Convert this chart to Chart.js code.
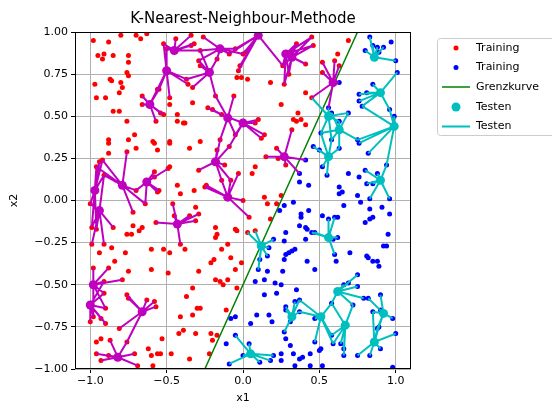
<!DOCTYPE html>
<html>
<head>
<meta charset="utf-8">
<script src="https://cdn.jsdelivr.net/npm/chart.js@4/dist/chart.umd.min.js"></script>
<style>
  body { margin: 0; background: #fff; }
</style>
</head>
<body>
<canvas id="knnChart" width="552" height="405"></canvas>
<script>
// training points, class "red" (left of the boundary)
const trainRed = [
  [-0.98,0.95],[-0.88,0.94],[-0.80,0.98],[-0.70,0.98],[-0.67,0.96],[-0.63,0.99],[-0.95,0.86],[-0.91,0.87],
  [-0.92,0.84],[-0.85,0.86],[-0.75,0.86],[-0.75,0.82],[-0.76,0.76],[-0.75,0.74],[-0.87,0.72],[-0.86,0.71],
  [-0.80,0.70],[-0.97,0.69],[-0.79,0.67],[-0.81,0.64],[-0.96,0.61],[-0.90,0.61],[-0.66,0.62],[-0.66,0.57],
  [-0.85,0.53],[-0.81,0.53],[-0.57,0.47],[-0.76,0.47],[-0.71,0.39],[-0.88,0.36],[-0.75,0.36],[-0.59,0.35],
  [-0.56,0.66],
  [-0.52,0.93],[-0.44,0.96],[-0.34,0.98],[-0.32,0.93],[-0.34,0.92],[-0.50,0.90],[-0.55,0.66],[-0.26,0.97],
  [-0.09,0.87],[-0.05,0.90],[-0.17,0.84],[-0.28,0.89],[-0.29,0.83],[-0.36,0.69],[-0.33,0.67],[-0.37,0.72],
  [-0.28,0.80],[-0.02,0.80],[-0.03,0.77],[-0.04,0.73],[-0.01,0.73],[-0.18,0.62],[-0.33,0.58],[-0.23,0.55],
  [-0.20,0.54],[-0.48,0.61],[-0.48,0.57],[-0.43,0.51],[-0.43,0.47],[-0.39,0.46],[-0.38,0.46],[-0.14,0.51],
  [-0.06,0.62],[-0.05,0.39],[-0.15,0.36],[-0.48,0.35],[-0.28,0.35],[-0.52,0.51],[-0.54,0.52],
  [0.00,0.87],[0.02,0.88],[0.03,0.72],[0.35,0.93],[0.45,0.97],[0.46,0.92],[0.52,0.82],[0.52,0.76],
  [0.41,0.81],[0.26,0.80],[0.30,0.75],[0.18,0.70],[0.27,0.69],[0.41,0.64],[0.45,0.61],[0.25,0.57],
  [0.36,0.52],[0.33,0.48],[0.35,0.47],[0.38,0.48],[0.41,0.45],[0.32,0.42],[0.08,0.46],[0.10,0.48],
  [0.14,0.39],[0.12,0.37],
  [0.69,0.95],[0.62,0.87],[0.60,0.83],[0.63,0.80],
  [-0.88,0.34],[-0.76,0.29],[-0.70,0.31],[-0.58,0.34],[-0.56,0.30],[-0.88,0.28],[-0.92,0.24],[-0.94,0.23],
  [-0.96,0.20],[-0.91,0.15],[-1.00,-0.02],[-0.70,0.06],[-0.64,-0.02],[-0.72,-0.07],[-0.85,-0.16],[-0.72,-0.15],
  [-0.66,-0.16],[-0.68,-0.18],[-0.76,-0.20],[-0.73,-0.20],[-0.57,-0.13],[-0.99,-0.26],[-0.91,-0.26],[-0.94,-0.31],
  [-0.86,-0.28],[-0.77,-0.31],[-0.60,-0.29],[-0.58,0.17],[-0.58,0.14],[-0.56,0.05],[-0.55,0.06],[-0.99,-0.16],
  [-0.96,-0.17],
  [-0.48,0.34],[-0.35,0.31],[-0.17,0.30],[-0.09,0.32],[-0.12,0.21],[-0.48,0.20],[-0.49,0.19],[-0.29,0.18],
  [-0.03,0.16],[-0.14,0.12],[-0.08,0.12],[-0.43,0.09],[-0.41,0.04],[-0.32,0.06],[-0.24,0.09],[-0.25,0.08],
  [-0.46,-0.02],[-0.31,-0.04],[-0.35,-0.09],[-0.29,-0.08],[-0.45,-0.09],[-0.31,-0.12],[-0.41,-0.26],[-0.38,-0.29],
  [-0.52,-0.29],[-0.48,-0.31],[-0.18,-0.16],[-0.17,-0.20],[-0.18,-0.22],[-0.05,-0.17],[-0.04,-0.18],[-0.14,-0.29],
  [-0.10,-0.26],
  [0.22,0.31],[0.15,0.26],[0.23,0.25],[0.28,0.21],[0.08,0.20],[0.06,0.16],[0.14,0.02],[0.16,-0.02],
  [0.22,-0.02],[0.25,0.03],[0.00,0.00],[0.04,-0.10],[0.03,-0.19],[0.08,-0.18],[0.18,-0.11],
  [-0.84,-0.36],[-0.98,-0.40],[-0.88,-0.40],[-0.75,-0.42],[-0.60,-0.41],[-0.91,-0.48],[-0.79,-0.47],[-0.91,-0.55],
  [-0.90,-0.64],[-0.98,-0.69],[-0.93,-0.70],[-1.00,-0.72],[-0.90,-0.73],[-0.76,-0.56],[-0.75,-0.58],[-0.63,-0.59],
  [-0.58,-0.60],[-0.57,-0.63],[-0.81,-0.76],[-0.96,-0.84],[-0.93,-0.82],[-0.87,-0.83],[-0.76,-0.84],[-0.62,-0.88],
  [-0.96,-0.91],[-0.88,-0.92],[-0.93,-0.95],[-0.71,-0.91],[-0.69,-0.98],[-0.59,-0.98],[-0.60,-0.92],[-0.56,-0.91],
  [-0.21,-0.37],[-0.19,-0.35],[-0.08,-0.34],[-0.01,-0.37],[-0.49,-0.43],[-0.29,-0.42],[-0.05,-0.41],[-0.18,-0.47],
  [-0.15,-0.48],[-0.13,-0.50],[-0.10,-0.47],[-0.04,-0.52],[-0.33,-0.52],[-0.37,-0.57],[-0.30,-0.64],[-0.28,-0.64],
  [-0.11,-0.65],[-0.33,-0.68],[-0.41,-0.69],[-0.42,-0.79],[-0.39,-0.77],[-0.31,-0.79],[-0.21,-0.79],[-0.17,-0.80],
  [-0.20,-0.83],[-0.22,-0.91],[-0.47,-0.91],[-0.35,-0.94],[-0.54,-0.91],[-0.53,-0.82]
];

// training points, class "blue" (right of the boundary)
const trainBlue = [
  [0.51,0.40],
  [0.83,0.97],[0.80,0.89],[0.85,0.92],[0.88,0.91],[0.92,0.91],[0.97,0.94],[0.89,0.88],[0.63,0.70],
  [1.00,0.83],[1.01,0.76],[0.85,0.69],[0.96,0.54],[0.76,0.63],[0.81,0.64],[0.76,0.59],[0.78,0.56],
  [0.56,0.55],[0.69,0.52],[0.58,0.52],[0.63,0.47],[0.58,0.36],[0.99,0.50],[0.75,0.36],
  [0.41,0.24],[0.37,0.16],[0.37,0.11],[0.43,0.09],[0.33,-0.01],[0.27,-0.03],[0.24,-0.06],[0.38,-0.08],
  [0.38,-0.10],[0.43,-0.06],[0.52,-0.09],[0.37,-0.15],[0.41,-0.16],[0.42,-0.17],[0.28,-0.19],[0.41,-0.23],
  [0.45,-0.19],[0.47,-0.19],[0.27,-0.24],[0.20,-0.23],[0.32,-0.30],[0.34,-0.29],[0.28,-0.32],[0.30,-0.31],
  [0.17,-0.28],[0.16,-0.33],[0.46,0.32],[0.52,0.20],[0.55,0.15],[0.50,0.30],
  [0.82,0.28],[0.94,0.21],[0.80,0.18],[0.76,0.14],[0.81,0.10],[0.85,0.10],[0.88,0.16],[0.69,0.16],
  [0.63,0.08],[0.65,0.05],[0.63,0.04],[0.75,0.03],[0.77,-0.01],[0.83,0.01],[0.96,0.01],[0.91,-0.04],
  [0.66,-0.03],[0.83,-0.05],[0.96,-0.08],[0.85,-0.10],[0.83,-0.11],[0.80,-0.13],[0.56,-0.11],[0.60,-0.10],
  [0.62,-0.10],[0.95,-0.20],[0.62,-0.22],[0.59,-0.23],[0.92,-0.27],[0.94,-0.27],[0.60,-0.32],[0.70,-0.31],
  [0.81,-0.33],[0.63,0.31],[0.76,0.34],
  [-0.08,-0.70],[-0.05,-0.69],[-0.05,-0.80],[-0.11,-0.85],[-0.09,-0.97],[0.00,-0.92],
  [0.11,-0.35],[0.27,-0.35],[0.26,-0.42],[0.10,-0.41],[0.16,-0.42],[0.08,-0.48],[0.14,-0.47],[0.21,-0.49],
  [0.25,-0.50],[0.14,-0.56],[0.22,-0.55],[0.35,-0.53],[0.34,-0.60],[0.37,-0.59],[0.28,-0.63],[0.28,-0.65],
  [0.31,-0.72],[0.37,-0.66],[0.09,-0.68],[0.17,-0.68],[0.19,-0.72],[0.05,-0.73],[0.47,-0.70],[0.27,-0.78],
  [0.28,-0.82],[0.31,-0.86],[0.33,-0.91],[0.04,-0.85],[0.20,-0.92],[0.25,-0.91],[0.25,-0.95],[0.11,-0.96],
  [0.18,-0.95],[0.34,-0.98],[0.37,-0.94],[0.39,-0.93],[0.44,-0.91],[0.44,-0.98],[0.47,-0.84],[0.50,-0.89],
  [0.51,-0.88],[0.52,-0.98],[0.42,-0.36],[0.47,-0.41],
  [0.61,-0.36],[0.82,-0.34],[0.85,-0.36],[0.88,-0.36],[0.89,-0.39],[0.75,-0.44],[0.69,-0.49],[0.66,-0.50],
  [0.75,-0.51],[0.58,-0.61],[0.72,-0.62],[0.79,-0.58],[0.82,-0.58],[0.90,-0.56],[0.98,-0.70],[0.85,-0.66],
  [0.89,-0.75],[0.88,-0.76],[1.00,-0.79],[0.58,-0.80],[0.59,-0.85],[0.64,-0.85],[0.66,-0.88],[0.66,-0.92],
  [0.75,-0.92],[0.83,-0.92],[0.90,-0.88],[0.98,-0.99],[0.90,-0.65]
];

// test points, by predicted class
const testRed = [
  [-0.45,0.89],[-0.50,0.77],[-0.15,0.90],[-0.22,0.76],[-0.61,0.57],[0.10,0.98],[0.28,0.87],[0.32,0.85],
  [-0.10,0.49],[0.00,0.46],[0.59,0.70],[-0.97,0.06],[-0.94,-0.06],[-0.79,0.09],[-0.63,0.11],[-0.18,0.23],
  [-0.10,0.02],[-0.43,-0.14],[0.27,0.26],[-0.98,-0.50],[-1.00,-0.62],[-0.66,-0.66],[-0.82,-0.93]
];
const testBlue = [
  [0.86,0.85],[0.90,0.64],[0.56,0.50],[0.63,0.42],[0.99,0.44],[0.56,0.26],[0.90,0.12],[0.56,-0.22],
  [0.12,-0.27],[0.62,-0.54],[0.32,-0.69],[0.51,-0.69],[0.05,-0.91],[0.67,-0.74],[0.92,-0.67],[0.86,-0.84]
];

const boundaryX = [-0.25, 0.75];
const boundaryY = [-1, 1];
const xTicks = [-1.0, -0.5, 0.0, 0.5, 1.0];
const yTicks = [-1.0, -0.75, -0.5, -0.25, 0.0, 0.25, 0.5, 0.75, 1.0];
const K = 7;

const MAG = '#bf00bf', CYAN = '#00bfbf';
const allTrain = trainRed.concat(trainBlue);

// lines from each test point to its K nearest training points
function neighbourLines(tests) {
  const out = [];
  tests.forEach(([tx, ty]) => {
    const nb = allTrain
      .map(([x, y]) => [x, y, (x - tx) ** 2 + (y - ty) ** 2])
      .sort((a, b) => a[2] - b[2])
      .slice(0, K);
    nb.forEach(([x, y]) => {
      out.push({ x: tx, y: ty }, { x: x, y: y }, { x: null, y: null });
    });
  });
  return out;
}

const toPts = arr => arr.map(([x, y]) => ({ x, y }));
const fmtMinus = s => s.replace('-', '\u2212');

const framePlugin = {
  id: 'frame',
  afterDraw(chart) {
    const { ctx, chartArea: a } = chart;
    ctx.save();
    ctx.strokeStyle = '#000';
    ctx.lineWidth = 1;
    ctx.strokeRect(Math.round(a.left) + 0.5, Math.round(a.top) + 0.5,
      Math.round(a.right - a.left) - 1, Math.round(a.bottom - a.top) - 1);

    ctx.fillStyle = '#000';
    ctx.textAlign = 'center';
    ctx.textBaseline = 'middle';
    ctx.font = '15px "DejaVu Sans"';
    ctx.fillText('K-Nearest-Neighbour-Methode', (a.left + a.right) / 2, 19);
    ctx.font = '11px "DejaVu Sans"';
    ctx.fillText('x1', (a.left + a.right) / 2, 398);
    ctx.save();
    ctx.translate(14, (a.top + a.bottom) / 2);
    ctx.rotate(-Math.PI / 2);
    ctx.fillText('x2', 0, 0);
    ctx.restore();

    // legend
    ctx.beginPath();
    ctx.roundRect(437.5, 38.5, 130, 97, 3);
    ctx.fillStyle = 'rgba(255,255,255,0.8)';
    ctx.fill();
    ctx.strokeStyle = '#cccccc';
    ctx.stroke();
    const rows = [48, 67.5, 87, 107, 126.5];
    const dot = (y, r, c) => { ctx.beginPath(); ctx.arc(456, y, r, 0, Math.PI * 2); ctx.fillStyle = c; ctx.fill(); };
    const seg = (y, c, w) => { ctx.beginPath(); ctx.moveTo(442, y); ctx.lineTo(470, y); ctx.strokeStyle = c; ctx.lineWidth = w; ctx.stroke(); };
    dot(rows[0], 2.5, '#ff0000');
    dot(rows[1], 2.5, '#0000ff');
    seg(rows[2], '#008000', 1.5);
    dot(rows[3], 4.5, CYAN);
    seg(rows[4], CYAN, 2);
    ctx.fillStyle = '#000';
    ctx.textAlign = 'left';
    ctx.font = '11px "DejaVu Sans"';
    ['Training', 'Training', 'Grenzkurve', 'Testen', 'Testen'].forEach((t, i) => ctx.fillText(t, 476, rows[i]));
    ctx.restore();
  }
};

const ctx = document.getElementById('knnChart').getContext('2d');
new Chart(ctx, {
  type: 'scatter',
  data: {
    datasets: [
      { data: toPts(testRed), backgroundColor: MAG, pointRadius: 4.5, borderWidth: 0, order: 1 },
      { data: toPts(testBlue), backgroundColor: CYAN, pointRadius: 4.5, borderWidth: 0, order: 1 },
      { data: neighbourLines(testRed), showLine: true, spanGaps: false, borderColor: MAG, borderWidth: 2, pointRadius: 0, order: 2 },
      { data: neighbourLines(testBlue), showLine: true, spanGaps: false, borderColor: CYAN, borderWidth: 2, pointRadius: 0, order: 2 },
      { data: boundaryX.map((x, i) => ({ x, y: boundaryY[i] })), showLine: true, borderColor: '#008000', borderWidth: 1.5, pointRadius: 0, order: 3 },
      { data: toPts(trainBlue), backgroundColor: '#0000ff', pointRadius: 2.5, borderWidth: 0, order: 4 },
      { data: toPts(trainRed), backgroundColor: '#ff0000', pointRadius: 2.5, borderWidth: 0, order: 4 }
    ]
  },
  options: {
    responsive: false,
    animation: false,
    layout: { padding: { left: 0, right: 141, top: 32, bottom: 0 } },
    plugins: { legend: { display: false }, title: { display: false }, tooltip: { enabled: false } },
    scales: {
      x: {
        type: 'linear', min: -1.1, max: 1.1,
        afterBuildTicks: s => { s.ticks = xTicks.map(v => ({ value: v })); },
        afterFit: s => { s.height = 36; },
        border: { display: false },
        grid: { color: '#b0b0b0', tickColor: '#000', tickLength: 4 },
        ticks: {
          color: '#000', padding: 2, maxRotation: 0,
          font: { family: 'DejaVu Sans', size: 11 },
          callback: v => fmtMinus(v.toFixed(1))
        }
      },
      y: {
        type: 'linear', min: -1, max: 1,
        afterBuildTicks: s => { s.ticks = yTicks.map(v => ({ value: v })); },
        afterFit: s => { s.width = 75; },
        border: { display: false },
        grid: { color: '#b0b0b0', tickColor: '#000', tickLength: 4 },
        ticks: {
          color: '#000', padding: 3,
          font: { family: 'DejaVu Sans', size: 11 },
          callback: v => fmtMinus(v.toFixed(2))
        }
      }
    }
  },
  plugins: [framePlugin]
});
</script>
</body>
</html>
